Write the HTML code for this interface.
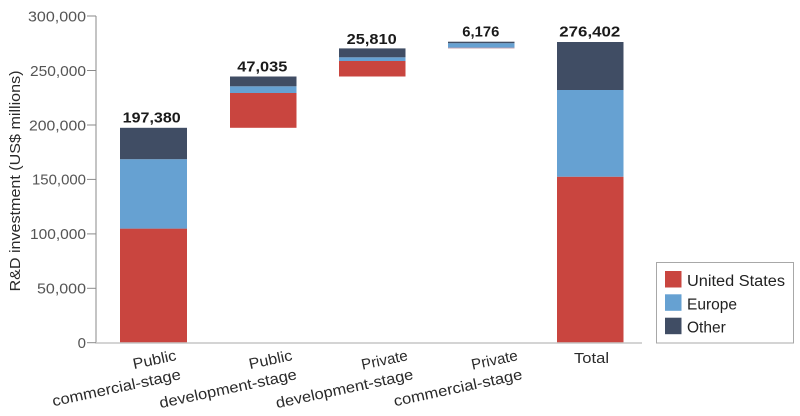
<!DOCTYPE html>
<html>
<head>
<meta charset="utf-8">
<style>
  html, body { margin: 0; padding: 0; background: #ffffff; }
  body { width: 800px; height: 416px; overflow: hidden; }
  svg { display: block; }
  text { font-family: "Liberation Sans", sans-serif; }
</style>
</head>
<body>
<svg width="800" height="416" viewBox="0 0 800 416" xmlns="http://www.w3.org/2000/svg">
  <rect x="0" y="0" width="800" height="416" fill="#ffffff"/>

  <!-- Y axis label -->
  <text x="0" y="0" transform="translate(20,181) rotate(-90)" text-anchor="middle" font-size="15" fill="#2a2a2a" textLength="221" lengthAdjust="spacingAndGlyphs">R&amp;D investment (US$ millions)</text>

  <!-- Y ticks -->
  <g stroke="#8a8a8a" stroke-width="1">
    <line x1="87" y1="16" x2="96" y2="16"/>
    <line x1="87" y1="70.5" x2="96" y2="70.5"/>
    <line x1="87" y1="125" x2="96" y2="125"/>
    <line x1="87" y1="179.4" x2="96" y2="179.4"/>
    <line x1="87" y1="233.9" x2="96" y2="233.9"/>
    <line x1="87" y1="288.3" x2="96" y2="288.3"/>
    <line x1="87" y1="342.7" x2="96" y2="342.7"/>
    <line x1="96" y1="16" x2="96" y2="343.5"/>
  </g>
  <g font-size="15" fill="#555555" text-anchor="end">
    <text x="86" y="21.3" textLength="58" lengthAdjust="spacingAndGlyphs">300,000</text>
    <text x="86" y="75.8" textLength="56" lengthAdjust="spacingAndGlyphs">250,000</text>
    <text x="86" y="130.3" textLength="57" lengthAdjust="spacingAndGlyphs">200,000</text>
    <text x="86" y="184.7" textLength="54" lengthAdjust="spacingAndGlyphs">150,000</text>
    <text x="86" y="239.2" textLength="56" lengthAdjust="spacingAndGlyphs">100,000</text>
    <text x="86" y="293.6" textLength="49" lengthAdjust="spacingAndGlyphs">50,000</text>
    <text x="86" y="348">0</text>
  </g>

  <!-- Bars -->
  <!-- Bar 1 -->
  <rect x="120" y="228.6" width="67" height="114.1" fill="#c9453f"/>
  <rect x="120" y="159.2" width="67" height="69.4" fill="#66a1d2"/>
  <rect x="120" y="127.8" width="67" height="31.4" fill="#404d64"/>
  <!-- Bar 2 -->
  <rect x="230" y="93" width="66.5" height="34.8" fill="#c9453f"/>
  <rect x="230" y="86.3" width="66.5" height="6.7" fill="#66a1d2"/>
  <rect x="230" y="76.5" width="66.5" height="9.8" fill="#404d64"/>
  <!-- Bar 3 -->
  <rect x="339" y="61" width="66.5" height="15.5" fill="#c9453f"/>
  <rect x="339" y="57.3" width="66.5" height="3.7" fill="#66a1d2"/>
  <rect x="339" y="48.4" width="66.5" height="8.9" fill="#404d64"/>
  <!-- Bar 4 -->
  <rect x="448" y="47.6" width="66.5" height="0.8" fill="#b88a99"/>
  <rect x="448" y="43.2" width="66.5" height="4.4" fill="#66a1d2"/>
  <rect x="448" y="41.7" width="66.5" height="1.5" fill="#404d64"/>
  <!-- Bar 5 -->
  <rect x="557" y="176.7" width="66.5" height="166" fill="#c9453f"/>
  <rect x="557" y="90" width="66.5" height="86.7" fill="#66a1d2"/>
  <rect x="557" y="42" width="66.5" height="48" fill="#404d64"/>

  <!-- X axis line -->
  <line x1="96" y1="343" x2="642" y2="343" stroke="#c6c6c6" stroke-width="1.5"/>

  <!-- Value labels -->
  <g font-size="15" font-weight="bold" fill="#1a1a1a" text-anchor="middle">
    <text x="151.7" y="122.6" textLength="58" lengthAdjust="spacingAndGlyphs">197,380</text>
    <text x="262.3" y="71.3" textLength="50" lengthAdjust="spacingAndGlyphs">47,035</text>
    <text x="371.7" y="44" textLength="50" lengthAdjust="spacingAndGlyphs">25,810</text>
    <text x="480.8" y="36.6" textLength="37" lengthAdjust="spacingAndGlyphs">6,176</text>
    <text x="589.8" y="36.6" textLength="61" lengthAdjust="spacingAndGlyphs">276,402</text>
  </g>

  <!-- X labels -->
  <g font-size="15" fill="#2a2a2a" text-anchor="end">
    <text x="177" y="360" transform="rotate(-12 177 360)" textLength="44" lengthAdjust="spacingAndGlyphs">Public</text>
    <text x="181.5" y="379" transform="rotate(-12 181.5 379)" textLength="131" lengthAdjust="spacingAndGlyphs">commercial-stage</text>

    <text x="293" y="360" transform="rotate(-12 293 360)" textLength="44" lengthAdjust="spacingAndGlyphs">Public</text>
    <text x="297.5" y="379" transform="rotate(-12 297.5 379)" textLength="140" lengthAdjust="spacingAndGlyphs">development-stage</text>

    <text x="408.5" y="360" transform="rotate(-12 408.5 360)" textLength="47" lengthAdjust="spacingAndGlyphs">Private</text>
    <text x="414" y="379" transform="rotate(-12 414 379)" textLength="140" lengthAdjust="spacingAndGlyphs">development-stage</text>

    <text x="518.5" y="360" transform="rotate(-12 518.5 360)" textLength="47" lengthAdjust="spacingAndGlyphs">Private</text>
    <text x="523" y="379" transform="rotate(-12 523 379)" textLength="131" lengthAdjust="spacingAndGlyphs">commercial-stage</text>
  </g>
  <text x="591.5" y="363" font-size="15" fill="#2a2a2a" text-anchor="middle" textLength="35" lengthAdjust="spacingAndGlyphs">Total</text>

  <!-- Legend -->
  <rect x="656.5" y="262.5" width="137" height="80.5" fill="#ffffff" stroke="#a8a8a8" stroke-width="1"/>
  <rect x="665" y="271" width="16.5" height="16.5" fill="#c9453f"/>
  <rect x="665" y="294.3" width="16.5" height="16.5" fill="#66a1d2"/>
  <rect x="665" y="317.7" width="16.5" height="16.5" fill="#404d64"/>
  <g font-size="15.5" fill="#222222">
    <text x="687" y="286" textLength="98" lengthAdjust="spacingAndGlyphs">United States</text>
    <text x="687" y="309.3">Europe</text>
    <text x="687" y="332.7">Other</text>
  </g>
</svg>
</body>
</html>
